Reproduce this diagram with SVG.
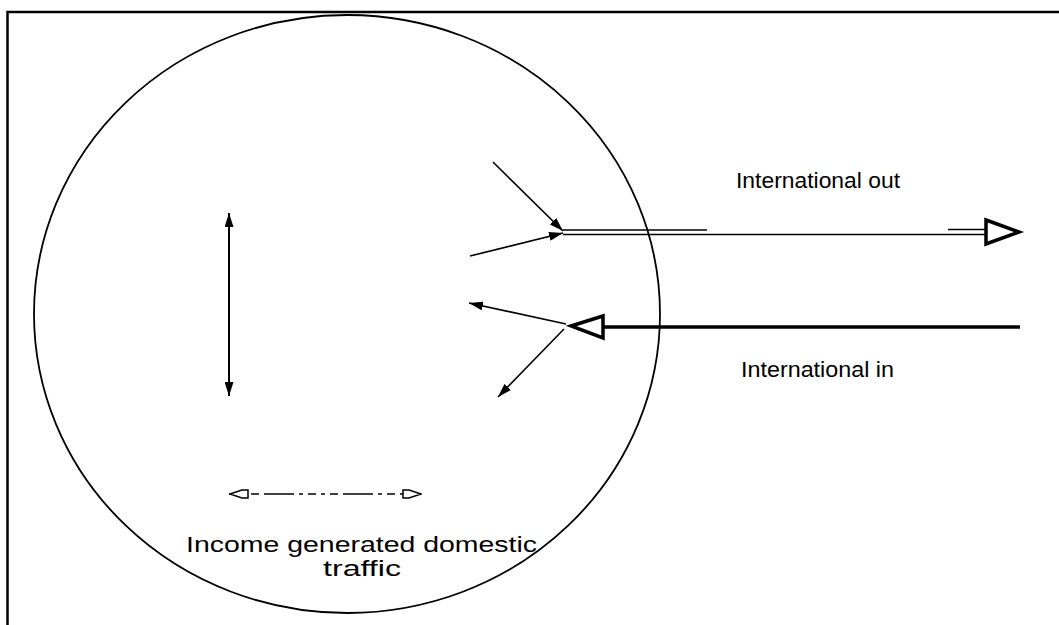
<svg xmlns="http://www.w3.org/2000/svg" width="1059" height="625" viewBox="0 0 1059 625">
<style>
.ln{stroke:#000;fill:none}
.txt{font-family:"Liberation Sans",Arial,sans-serif;font-size:22px;fill:#000}
</style>
<defs>
<marker id="fa" viewBox="0 0 14 9" refX="14" refY="4.5" markerWidth="14" markerHeight="9" markerUnits="userSpaceOnUse" orient="auto-start-reverse">
<path d="M0,0 L14,4.5 L0,9 Z" fill="#000"/>
</marker>
<marker id="oa" viewBox="0 0 20 10" refX="20" refY="5" markerWidth="20" markerHeight="10" markerUnits="userSpaceOnUse" orient="auto-start-reverse">
<path d="M1,1 L7,1 L19,5 L7,9 L1,9 Z" fill="#fff" stroke="#000" stroke-width="1.5"/>
</marker>
</defs>
<rect width="1059" height="625" fill="#fff"/>
<g id="frame">
<path class="ln" d="M7.5,625 V12 H1059" stroke-width="2.5"/>
</g>
<g id="circle">
<ellipse class="ln" cx="347" cy="314" rx="313" ry="299" stroke-width="1.8"/>
</g>
<g id="connectors">
<path class="ln" d="M563,230 H707" stroke-width="1.6"/>
<path class="ln" d="M563,234.5 H986" stroke-width="1.6"/>
<path class="ln" d="M948,229.5 H986" stroke-width="1.6"/>
<path d="M986,220 L1019,232 L986,244 Z" fill="#fff" stroke="#000" stroke-width="3.5" stroke-linejoin="miter"/>
<line class="ln" x1="493" y1="162" x2="563" y2="231" stroke-width="1.6" marker-end="url(#fa)"/>
<line class="ln" x1="470" y1="256" x2="563" y2="233" stroke-width="1.6" marker-end="url(#fa)"/>
<path class="ln" d="M603,327 H1020" stroke-width="3.5"/>
<path d="M603,316 L571,326 L603,338 Z" fill="#fff" stroke="#000" stroke-width="3.5"/>
<line class="ln" x1="566" y1="324" x2="469" y2="303" stroke-width="1.6" marker-end="url(#fa)"/>
<line class="ln" x1="564" y1="329" x2="498" y2="397" stroke-width="1.6" marker-end="url(#fa)"/>
<line class="ln" x1="229" y1="213" x2="229" y2="396" stroke-width="2" marker-start="url(#fa)" marker-end="url(#fa)"/>
<line class="ln" x1="229" y1="494" x2="422" y2="494" stroke-width="1.6" stroke-dasharray="8,5,4,5,8,5,30,5,4,5" marker-start="url(#oa)" marker-end="url(#oa)"/>
</g>
<g id="label-out"><text class="txt" x="736" y="188" textLength="164" lengthAdjust="spacingAndGlyphs">International out</text></g>
<g id="label-in"><text class="txt" x="741" y="377" textLength="153" lengthAdjust="spacingAndGlyphs">International in</text></g>
<g id="label-domestic">
<text class="txt" x="186" y="552" textLength="351" lengthAdjust="spacingAndGlyphs">Income generated domestic</text>
<text class="txt" x="323" y="576" textLength="78" lengthAdjust="spacingAndGlyphs">traffic</text>
</g>
</svg>
